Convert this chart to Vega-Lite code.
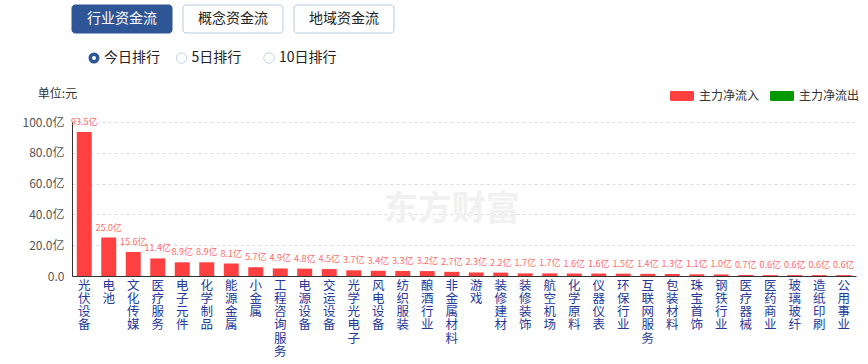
{
  "$schema": "https://vega.github.io/schema/vega-lite/v6.json",
  "padding": {"left": 10, "top": 4, "right": 0, "bottom": 0},
  "background": "white",
  "spacing": 13,
  "columns": 1,
  "align": "none",
  "config": {"font": "Noto Sans CJK SC", "view": {"stroke": null}},
  "resolve": {"scale": {"color": "independent"}, "legend": {"color": "independent"}},
  "concat": [
    {
      "width": 322,
      "height": 28,
      "data": {"values": [
        {"tab": "行业资金流", "active": true},
        {"tab": "概念资金流", "active": false},
        {"tab": "地域资金流", "active": false}
      ]},
      "encoding": {"x": {"field": "tab", "type": "nominal", "sort": null, "axis": null, "scale": {"paddingInner": 0.099, "paddingOuter": 0}}},
      "layer": [
        {"mark": {"type": "bar", "cornerRadius": 3, "strokeWidth": 1},
         "encoding": {
           "fill": {"condition": {"test": "datum.active", "value": "#2e5595"}, "value": "#ffffff"},
           "stroke": {"condition": {"test": "datum.active", "value": "#2e5595"}, "value": "#b5cbe3"}
         }},
        {"mark": {"type": "text", "fontSize": 14},
         "encoding": {
           "text": {"field": "tab"},
           "color": {"condition": {"test": "datum.active", "value": "#ffffff"}, "value": "#222222"}
         }}
      ]
    },
    {
      "width": 219,
      "height": 23,
      "data": {"values": [
        {"opt": "今日排行", "sel": true},
        {"opt": "5日排行", "sel": false},
        {"opt": "10日排行", "sel": false}
      ]},
      "encoding": {"x": {"field": "opt", "type": "nominal", "sort": null, "axis": null, "scale": {"type": "point", "padding": 0.2514}}},
      "layer": [
        {"mark": {"type": "point", "filled": false, "fill": "white", "yOffset": -1.5, "opacity": 1},
         "encoding": {
           "size": {"condition": {"test": "datum.sel", "value": 56}, "value": 110},
           "stroke": {"condition": {"test": "datum.sel", "value": "#2e5595"}, "value": "#c5d3e6"},
           "strokeWidth": {"condition": {"test": "datum.sel", "value": 3.5}, "value": 1}
         }},
        {"mark": {"type": "text", "align": "left", "dx": 10, "yOffset": -1.5, "fontSize": 14, "color": "#222222"},
         "encoding": {"text": {"field": "opt"}}}
      ]
    },
    {
      "width": 784,
      "height": 154,
      "data": {"values": [
        {"industry": "光伏设备", "value": 93.5, "flow": "主力净流入"},
        {"industry": "电池", "value": 25.0, "flow": "主力净流入"},
        {"industry": "文化传媒", "value": 15.6, "flow": "主力净流入"},
        {"industry": "医疗服务", "value": 11.4, "flow": "主力净流入"},
        {"industry": "电子元件", "value": 8.9, "flow": "主力净流入"},
        {"industry": "化学制品", "value": 8.9, "flow": "主力净流入"},
        {"industry": "能源金属", "value": 8.1, "flow": "主力净流入"},
        {"industry": "小金属", "value": 5.7, "flow": "主力净流入"},
        {"industry": "工程咨询服务", "value": 4.9, "flow": "主力净流入"},
        {"industry": "电源设备", "value": 4.8, "flow": "主力净流入"},
        {"industry": "交运设备", "value": 4.5, "flow": "主力净流入"},
        {"industry": "光学光电子", "value": 3.7, "flow": "主力净流入"},
        {"industry": "风电设备", "value": 3.4, "flow": "主力净流入"},
        {"industry": "纺织服装", "value": 3.3, "flow": "主力净流入"},
        {"industry": "酿酒行业", "value": 3.2, "flow": "主力净流入"},
        {"industry": "非金属材料", "value": 2.7, "flow": "主力净流入"},
        {"industry": "游戏", "value": 2.3, "flow": "主力净流入"},
        {"industry": "装修建材", "value": 2.2, "flow": "主力净流入"},
        {"industry": "装修装饰", "value": 1.7, "flow": "主力净流入"},
        {"industry": "航空机场", "value": 1.7, "flow": "主力净流入"},
        {"industry": "化学原料", "value": 1.6, "flow": "主力净流入"},
        {"industry": "仪器仪表", "value": 1.6, "flow": "主力净流入"},
        {"industry": "环保行业", "value": 1.5, "flow": "主力净流入"},
        {"industry": "互联网服务", "value": 1.4, "flow": "主力净流入"},
        {"industry": "包装材料", "value": 1.3, "flow": "主力净流入"},
        {"industry": "珠宝首饰", "value": 1.1, "flow": "主力净流入"},
        {"industry": "钢铁行业", "value": 1.0, "flow": "主力净流入"},
        {"industry": "医疗器械", "value": 0.7, "flow": "主力净流入"},
        {"industry": "医药商业", "value": 0.6, "flow": "主力净流入"},
        {"industry": "玻璃玻纤", "value": 0.6, "flow": "主力净流入"},
        {"industry": "造纸印刷", "value": 0.6, "flow": "主力净流入"},
        {"industry": "公用事业", "value": 0.6, "flow": "主力净流入"}
      ]},
      "encoding": {
        "x": {"field": "industry", "type": "nominal", "sort": null,
          "scale": {"paddingInner": 0.39, "paddingOuter": 0.195},
          "axis": {"title": null, "labelAngle": 0, "labelExpr": "split(datum.value,'')", "labelLineHeight": 13.3,
            "labelFontSize": 12.5, "labelColor": "#24399a", "labelBaseline": "top", "labelAlign": "center", "labelPadding": 3,
            "ticks": false, "domainColor": "#333333", "labelOverlap": false, "labelLimit": 0}}
      },
      "layer": [
        {"mark": {"type": "bar"},
         "encoding": {
           "y": {"field": "value", "type": "quantitative", "scale": {"domain": [0, 100]},
             "axis": {"values": [0, 20, 40, 60, 80, 100], "tickCount": 6, "grid": true, "labelOverlap": false,
               "labelExpr": "datum.value==0 ? '0.0' : format(datum.value,'.1f') + '亿'",
               "labelColor": "#555555", "labelFontSize": 12, "labelPadding": 8, "ticks": false,
               "domainColor": "#333333", "gridDash": [3, 3], "gridColor": "#dcdcdc", "minExtent": 62,
               "title": "单位:元", "titleAngle": 0, "titleX": -15, "titleY": -29, "titleAlign": "center",
               "titleBaseline": "middle", "titleFontSize": 12, "titleFontWeight": "normal", "titleColor": "#333333"}},
           "color": {"field": "flow", "type": "nominal",
             "scale": {"domain": ["主力净流入", "主力净流出"], "range": ["#ff4040", "#009a00"]},
             "legend": {"title": null, "orient": "none", "legendX": 598, "legendY": -38, "direction": "horizontal",
               "symbolType": "M-0.9,-0.42H0.9A0.1,0.1 0 0 1 1,-0.32V0.32A0.1,0.1 0 0 1 0.9,0.42H-0.9A0.1,0.1 0 0 1 -1,0.32V-0.32A0.1,0.1 0 0 1 -0.9,-0.42Z",
               "symbolSize": 576, "symbolStrokeWidth": 0, "symbolOpacity": 1, "labelFontSize": 12, "labelColor": "#333333",
               "labelOffset": 5, "columnPadding": 9, "padding": 0}}
         }},
        {"mark": {"type": "text", "fontSize": 9, "color": "#ff6b6b", "baseline": "bottom", "dy": -5,
           "text": {"expr": "format(datum.value,'.1f') + '亿'"}},
         "encoding": {"y": {"field": "value", "type": "quantitative"}}},
        {"data": {"values": [{"wm": "东方财富"}]},
         "mark": {"type": "text", "fontSize": 34, "fontWeight": "bold", "color": "#f1f1f1"},
         "encoding": {"x": {"datum": "非金属材料"}, "y": {"datum": 43}, "text": {"field": "wm"}}}
      ]
    }
  ]
}
